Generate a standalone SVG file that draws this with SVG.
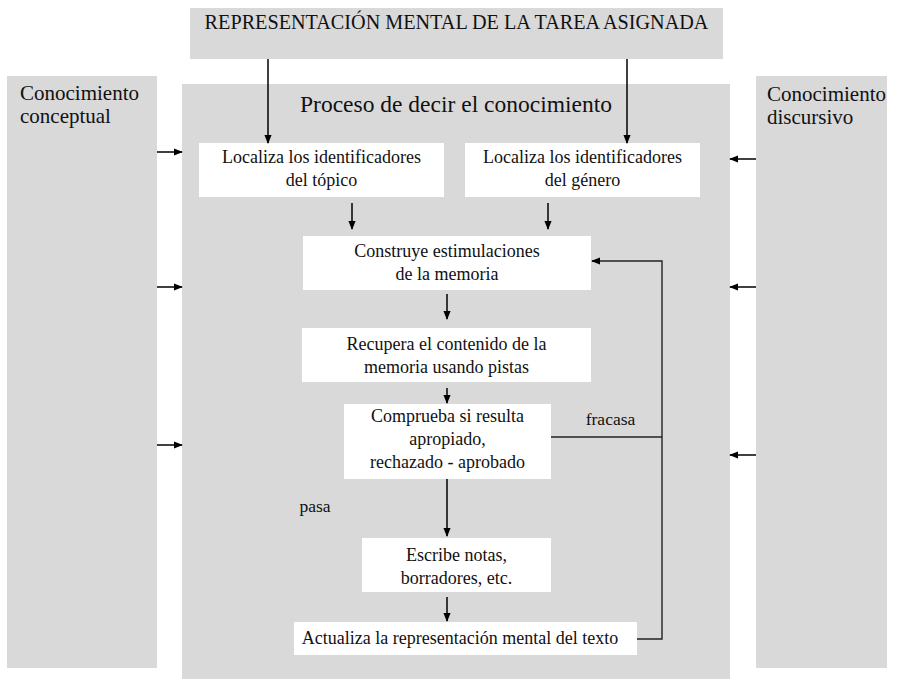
<svg xmlns="http://www.w3.org/2000/svg" width="897" height="679" viewBox="0 0 897 679">
<defs>
<marker id="ah" viewBox="0 0 10 10" refX="9" refY="5" markerWidth="9" markerHeight="9" markerUnits="userSpaceOnUse" orient="auto">
<path d="M0,1 L10,5 L0,9 z" fill="#000"/>
</marker>
<style>
.panel{fill:#d9d9d9}
.box{fill:#fff}
text{font-family:"Liberation Serif","Times New Roman",serif;fill:#111}
.t{font-size:18px;text-anchor:middle}
.lab{font-size:21px}
.arr{stroke:#000;stroke-width:1.5;fill:none;marker-end:url(#ah)}
.ln{stroke:#222;stroke-width:1.4;fill:none}
</style>
</defs>
<rect width="897" height="679" fill="#fff"/>

<g id="top">
<rect class="panel" x="190" y="8" width="533" height="51"/>
<text x="456.5" y="29" style="font-size:20.2px;text-anchor:middle">REPRESENTACIÓN MENTAL DE LA TAREA ASIGNADA</text>
</g>

<g id="conceptual">
<rect class="panel" x="7" y="76" width="150" height="592"/>
<text class="lab" x="20" y="100">Conocimiento</text>
<text class="lab" x="20" y="123">conceptual</text>
</g>

<g id="discursivo">
<rect class="panel" x="756" y="76" width="131" height="592"/>
<text class="lab" x="767" y="101">Conocimiento</text>
<text class="lab" x="767" y="124">discursivo</text>
</g>

<g id="proceso">
<rect class="panel" x="182" y="84" width="548" height="595"/>
<text x="456" y="112" style="font-size:23.5px;text-anchor:middle">Proceso de decir el conocimiento</text>
</g>

<g id="topico">
<rect class="box" x="199" y="143" width="245" height="54"/>
<text class="t" x="321.5" y="163">Localiza los identificadores</text>
<text class="t" x="321.5" y="186">del tópico</text>
</g>

<g id="genero">
<rect class="box" x="465" y="143" width="235" height="54"/>
<text class="t" x="582.5" y="163">Localiza los identificadores</text>
<text class="t" x="582.5" y="186">del género</text>
</g>

<g id="construye">
<rect class="box" x="303" y="236" width="288" height="54"/>
<text class="t" x="447" y="257">Construye estimulaciones</text>
<text class="t" x="447" y="280">de la memoria</text>
</g>

<g id="recupera">
<rect class="box" x="302" y="328" width="289" height="54"/>
<text class="t" x="446.5" y="350">Recupera el contenido de la</text>
<text class="t" x="446.5" y="373">memoria usando pistas</text>
</g>

<g id="comprueba">
<rect class="box" x="344" y="404" width="207" height="75"/>
<text class="t" x="447.5" y="422">Comprueba si resulta</text>
<text class="t" x="447.5" y="445">apropiado,</text>
<text class="t" x="447.5" y="468">rechazado - aprobado</text>
</g>

<g id="escribe">
<rect class="box" x="362" y="538" width="189" height="54"/>
<text class="t" x="456.5" y="561">Escribe notas,</text>
<text class="t" x="456.5" y="584">borradores, etc.</text>
</g>

<g id="actualiza">
<rect class="box" x="294" y="622" width="343" height="33"/>
<text class="t" x="460" y="644">Actualiza la representación mental del texto</text>
</g>

<g id="labels">
<text class="t" x="610.5" y="425" style="font-size:17.5px">fracasa</text>
<text class="t" x="315" y="512" style="font-size:17.5px">pasa</text>
</g>

<g id="connectors">
<line class="arr" x1="268" y1="59" x2="268" y2="143"/>
<line class="arr" x1="627" y1="59" x2="627" y2="143"/>
<line class="arr" x1="157" y1="152" x2="182" y2="152"/>
<line class="arr" x1="157" y1="287" x2="182" y2="287"/>
<line class="arr" x1="157" y1="445" x2="182" y2="445"/>
<line class="arr" x1="756" y1="159" x2="730" y2="159"/>
<line class="arr" x1="756" y1="287" x2="730" y2="287"/>
<line class="arr" x1="756" y1="455" x2="730" y2="455"/>
<line class="arr" x1="352" y1="203" x2="352" y2="229"/>
<line class="arr" x1="548" y1="203" x2="548" y2="229"/>
<line class="arr" x1="447" y1="294" x2="447" y2="319"/>
<line class="arr" x1="447" y1="388" x2="447" y2="403"/>
<line class="arr" x1="447" y1="479" x2="447" y2="536"/>
<line class="arr" x1="447" y1="597" x2="447" y2="621"/>
<polyline class="ln" points="551,437 662,437"/>
<polyline class="ln" points="637,639 662,639 662,261 600,261"/>
<line class="arr" x1="600" y1="261" x2="592" y2="261"/>
</g>
</svg>
